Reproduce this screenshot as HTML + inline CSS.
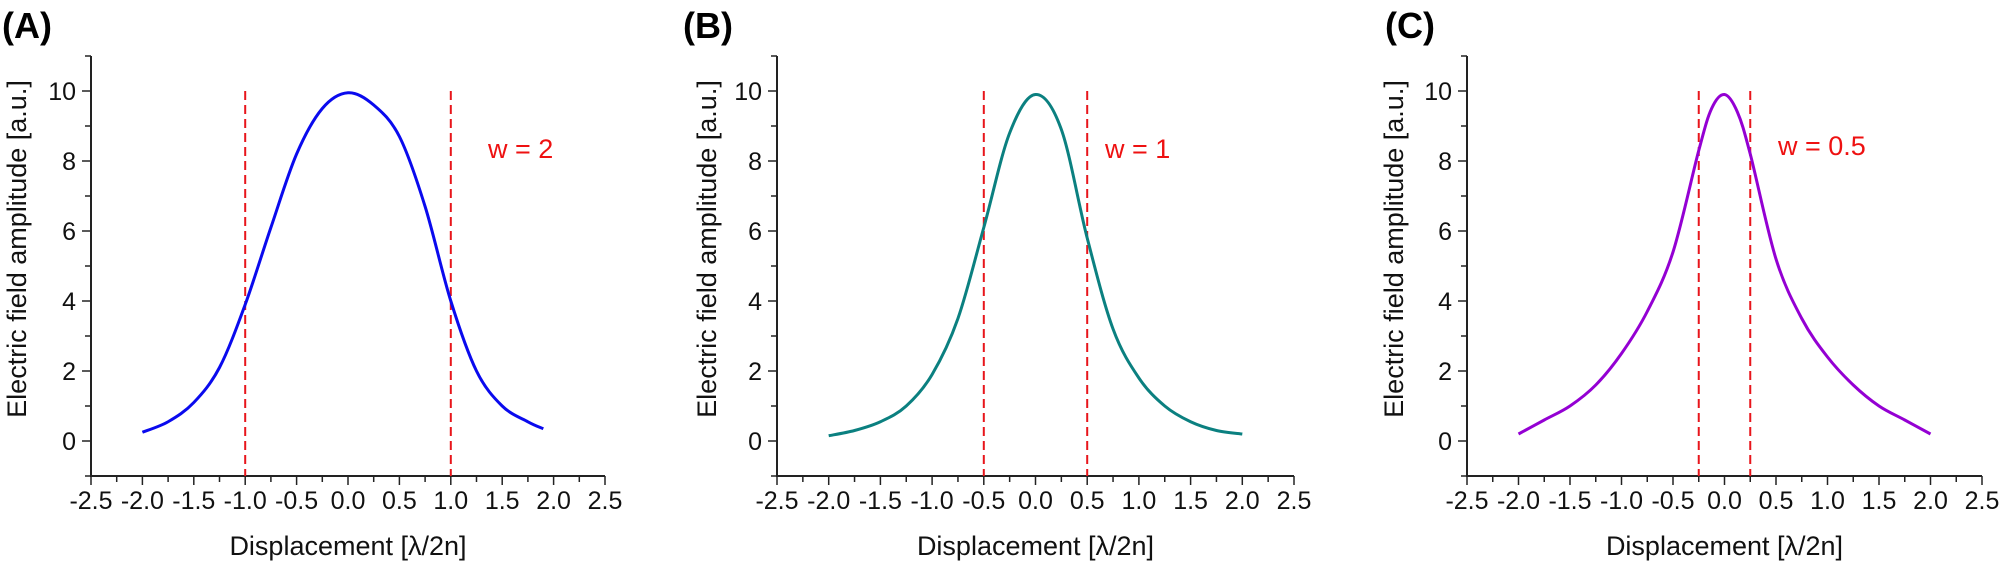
<!DOCTYPE html>
<html><head><meta charset="utf-8">
<style>
html,body{margin:0;padding:0;background:#fff;}
svg{display:block;font-family:"Liberation Sans",Arial,sans-serif;}
</style></head>
<body>
<svg id="fig" width="2001" height="563" viewBox="0 0 2001 563" xmlns="http://www.w3.org/2000/svg"></svg>
<script>
const xTicks = [-2.5,-2.0,-1.5,-1.0,-0.5,0.0,0.5,1.0,1.5,2.0,2.5];
const yTicks = [0,2,4,6,8,10];
const xsA = [-2,-1.75,-1.5,-1.25,-1,-0.75,-0.5,-0.25,0,0.25,0.5,0.75,1,1.25,1.5,1.75,1.9];
const ysA = [0.25,0.55,1.1,2.1,3.9,6.1,8.2,9.5,9.95,9.6,8.7,6.7,4.0,2.0,1.0,0.55,0.35];
const xsB = [-2,-1.75,-1.5,-1.25,-1,-0.75,-0.5,-0.25,0,0.25,0.5,0.75,1,1.25,1.5,1.75,2];
const ysB = [0.15,0.3,0.55,1.0,1.9,3.5,6.1,8.8,9.9,8.9,5.8,3.2,1.8,1.0,0.55,0.3,0.2];
const xsC = [-2,-1.75,-1.5,-1.25,-1,-0.75,-0.5,-0.25,-0.125,0,0.125,0.25,0.5,0.75,1,1.25,1.5,1.75,2];
const ysC = [0.2,0.6,1.0,1.6,2.5,3.7,5.4,8.3,9.5,9.9,9.4,8.2,5.2,3.5,2.4,1.6,1.0,0.6,0.2];
const panelLetters = ["(A)","(B)","(C)"];
const widths = [2,1,0.5];
const wLabels = ["w = 2","w = 1","w = 0.5"];
const colors = ["#0a0aee","#0b8080","#9400d3"];

const NS="http://www.w3.org/2000/svg";
const svg=document.getElementById('fig');
function mk(tag,attrs,parent){const e=document.createElementNS(NS,tag);for(const k in attrs)e.setAttribute(k,attrs[k]);(parent||svg).appendChild(e);return e;}

const panels=[
 {x0:91,x1:605,letterX:2,ytX:26,label:[488,148],xs:xsA,ys:ysA},
 {x0:777,x1:1294,letterX:683,ytX:716,label:[1105,148],xs:xsB,ys:ysB},
 {x0:1467,x1:1982,letterX:1385,ytX:1403,label:[1778,145],xs:xsC,ys:ysC}
];
const yBot=476, yTop=56;
panels.forEach((p,i)=>{
 const g=mk('g',{});
 
 
 const sx=v=>p.x0+(v+2.5)/5*(p.x1-p.x0);
 const sy=v=>yBot-(v+1)/12*(yBot-yTop);
 const lt=mk('text',{x:p.letterX,y:38,'font-size':36,'font-weight':'bold',fill:'#000'},g);
 lt.textContent=panelLetters[i];
 
 
 const ax=mk('path',{d:`M${p.x0},${yTop}V${yBot}H${p.x1}`,stroke:'#222',fill:'none','stroke-width':2},g);
 
 
 for(let v=-2.5;v<=2.501;v+=0.25){
   const major=Math.abs(v*2-Math.round(v*2))<1e-6;
   mk('line',{x1:sx(v),x2:sx(v),y1:yBot,y2:yBot+(major?9:6),stroke:'#222','stroke-width':1.5},g);
 }
 for(let v=-1;v<=11;v+=1){
   const major=v%2===0;
   mk('line',{x1:p.x0,x2:p.x0-(major?9:6),y1:sy(v),y2:sy(v),stroke:'#222','stroke-width':1.5},g);
 }
 xTicks.forEach(v=>{const t=mk('text',{x:sx(v),y:509,'font-size':25,'text-anchor':'middle',fill:'#111'},g);t.textContent=v.toFixed(1);
   });
 yTicks.forEach(v=>{const t=mk('text',{x:p.x0-15,y:sy(v)+9,'font-size':25,'text-anchor':'end',fill:'#111'},g);t.textContent=v;
   });
 const xt=mk('text',{x:(p.x0+p.x1)/2,y:555,'font-size':27,'text-anchor':'middle',fill:'#111'},g);
 xt.textContent='Displacement [λ/2n]';
 
 const yt=mk('text',{x:0,y:0,'font-size':27,'text-anchor':'middle',fill:'#111',transform:`translate(${p.ytX},249) rotate(-90)`},g);
 yt.textContent='Electric field amplitude [a.u.]';
 
 [-widths[i]/2,widths[i]/2].forEach(v=>{const l=mk('line',{x1:sx(v),x2:sx(v),y1:sy(10),y2:yBot,stroke:'#e8151b','stroke-width':2,'stroke-dasharray':'9,5'},g);
   });
 const wl=mk('text',{x:p.label[0],y:p.label[1]+10,'font-size':27,fill:'#ee1111'},g);
 wl.textContent=wLabels[i];
 
 const pts=p.xs.map((x,k)=>[sx(x),sy(p.ys[k])]);
 let d=`M${pts[0][0]},${pts[0][1]}`;
 for(let k=0;k<pts.length-1;k++){
   const p0=pts[Math.max(k-1,0)],p1=pts[k],p2=pts[k+1],p3=pts[Math.min(k+2,pts.length-1)];
   const c1=[p1[0]+(p2[0]-p0[0])/6,p1[1]+(p2[1]-p0[1])/6];
   const c2=[p2[0]-(p3[0]-p1[0])/6,p2[1]-(p3[1]-p1[1])/6];
   d+=`C${c1[0]},${c1[1]} ${c2[0]},${c2[1]} ${p2[0]},${p2[1]}`;
 }
 const c=mk('path',{d:d,stroke:colors[i],fill:'none','stroke-width':3},g);
 
});
</script>
</body></html>
